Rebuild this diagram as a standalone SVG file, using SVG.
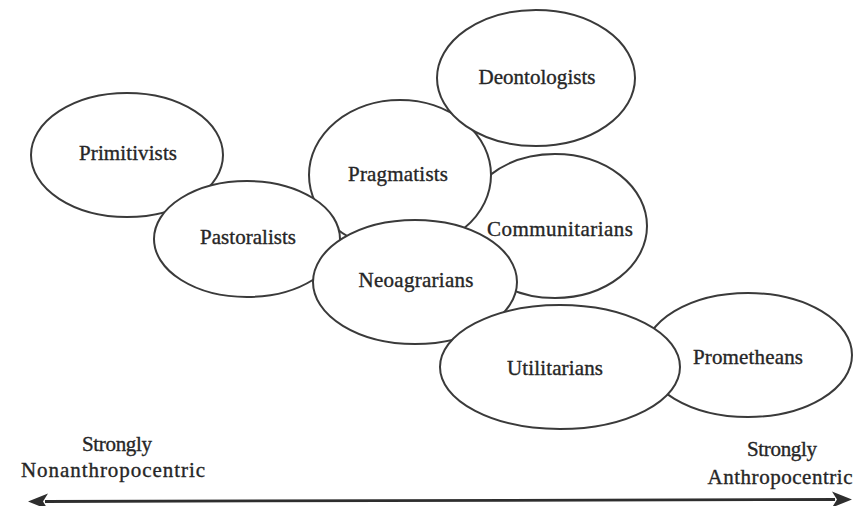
<svg xmlns="http://www.w3.org/2000/svg" width="868" height="506" viewBox="0 0 868 506">
<defs>
<style>
ellipse{fill:#fff;stroke:#3a3a3a;stroke-width:2}
text{font-family:"Liberation Serif","Times New Roman",serif;font-size:21px;fill:#262626;stroke:#262626;stroke-width:0.35;text-anchor:middle}
.ax{stroke:#2e2e2e;stroke-width:2.8;fill:none}
</style>
<marker id="ah" viewBox="0 0 20 16" refX="3" refY="8" markerWidth="20" markerHeight="16" markerUnits="userSpaceOnUse" orient="auto-start-reverse">
<path d="M0,0 L20,8 L0,16 L5,8 Z" fill="#2e2e2e"/>
</marker>
</defs>
<rect width="868" height="506" fill="#fff"/>
<g id="communitarians"><ellipse cx="555" cy="226" rx="92" ry="72"/><text x="560" y="236" textLength="146">Communitarians</text></g>
<g id="pragmatists"><ellipse cx="400" cy="175" rx="91" ry="75"/><text x="398" y="181" textLength="100">Pragmatists</text></g>
<g id="deontologists"><ellipse cx="536" cy="78" rx="99" ry="68"/><text x="537" y="84" textLength="117">Deontologists</text></g>
<g id="primitivists"><ellipse cx="127" cy="155" rx="96" ry="62"/><text x="128" y="160" textLength="98">Primitivists</text></g>
<g id="pastoralists"><ellipse cx="247" cy="239" rx="93" ry="58"/><text x="248" y="244" textLength="96">Pastoralists</text></g>
<g id="neoagrarians"><ellipse cx="415" cy="282" rx="102" ry="62"/><text x="416" y="287" textLength="115">Neoagrarians</text></g>
<g id="prometheans"><ellipse cx="748" cy="355" rx="104" ry="62"/><text x="748" y="364" textLength="110">Prometheans</text></g>
<g id="utilitarians"><ellipse cx="560" cy="367" rx="120" ry="62"/><text x="555" y="375" textLength="96">Utilitarians</text></g>
<g id="connectors">
<line class="ax" x1="45" y1="501.5" x2="835" y2="499.5" marker-start="url(#ah)" marker-end="url(#ah)"/>
</g>
<g id="axis-labels">
<text x="117" y="451" textLength="70">Strongly</text>
<text x="113" y="477" textLength="184">Nonanthropocentric</text>
<text x="782" y="456" textLength="70">Strongly</text>
<text x="780" y="484" textLength="145">Anthropocentric</text>
</g>
</svg>
